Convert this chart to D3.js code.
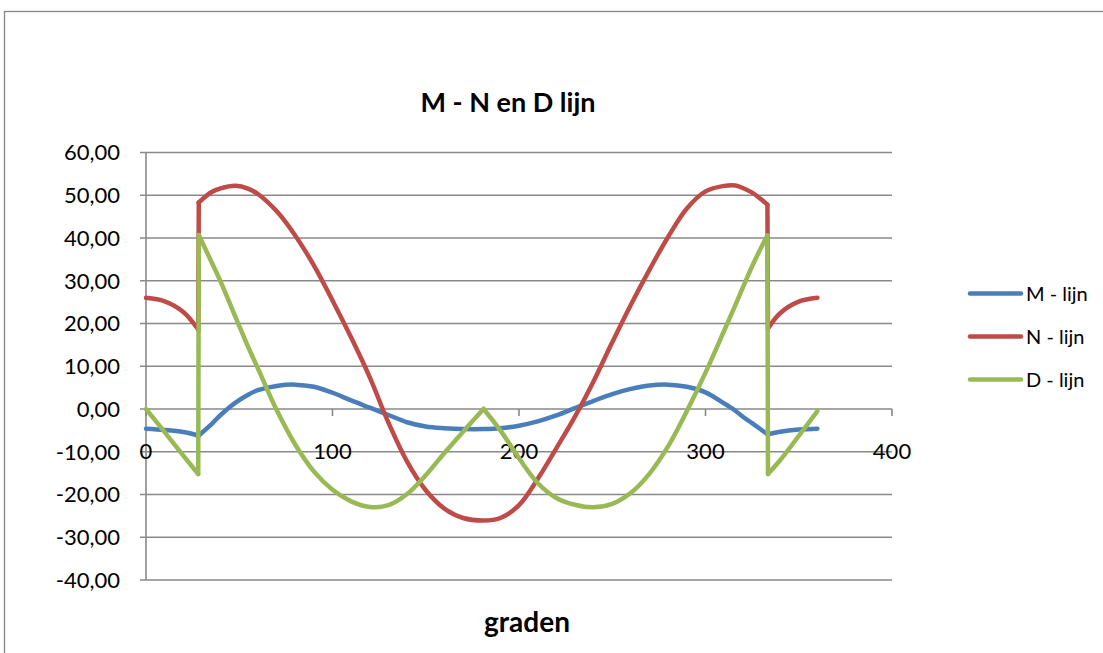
<!DOCTYPE html>
<html>
<head>
<meta charset="utf-8">
<script src="https://cdn.jsdelivr.net/npm/d3@7"></script>
<style>
  html, body { margin: 0; padding: 0; background: #ffffff; }
  svg { display: block; }
  text { font-family: Lato, "Open Sans", sans-serif; fill: #000; }
</style>
</head>
<body>
<svg id="chart" width="1103" height="653"></svg>
<script>
// ---------------- data ----------------
const degrees = [0,10,20,28,28.3,35,40,48,55,60,70,80,90,100,110,120,130,140,150,160,170,181,
  190,200,210,220,230,240,250,260,270,280,290,300,310,316,320,325,330,333.2,333.5,340,350,360];

const mValues = [-4.6,-4.9,-5.4,-6.2,-6.2,-3.6,-1.4,1.5,3.4,4.4,5.4,5.7,5.2,3.8,2.0,0.3,-1.4,-3.1,-4.1,-4.5,-4.7,-4.7,
  -4.5,-3.9,-2.9,-1.5,0.2,1.9,3.5,4.7,5.5,5.7,5.2,3.9,1.3,-0.4,-1.8,-3.3,-4.9,-5.9,-5.9,-5.3,-4.8,-4.6];

const nValues = [26.0,25.2,22.7,18.6,48.3,50.7,51.6,52.2,51.5,50.3,46.3,40.6,33.6,25.4,16.7,7.4,-3.2,-12.3,-19.0,-23.3,-25.5,-26.1,
  -25.5,-22.5,-16.4,-9.2,-1.8,6.5,15.6,24.4,32.6,40.3,46.9,50.9,52.2,52.3,51.7,50.6,49.0,47.8,18.8,22.4,25.1,26.0];

const dValues = [0,-5.4,-10.9,-15.2,40.7,34.5,29.8,21.5,14.3,9.5,-0.2,-8.3,-14.6,-18.9,-21.6,-22.9,-22.5,-19.9,-15.5,-10.3,-5.3,0,
  -5.0,-11.5,-17.3,-20.8,-22.4,-23.0,-22.2,-19.6,-15.1,-8.7,-0.5,8.5,18.3,24.3,28.4,33.4,37.9,40.6,-15.2,-12.0,-6.3,-0.5];

// degrees where a line has a corner or a jump (curve is split there)
const mBreaks = [28, 28.3, 333.2, 333.5];
const nBreaks = [28, 28.3, 333.2, 333.5];
const dBreaks = [28, 28.3, 181, 333.2, 333.5];

const seriesNames = ["M - lijn", "N - lijn", "D - lijn"];
const seriesColors = ["#4A7EBB", "#BE4B48", "#98B954"];
const yTicks = [60, 50, 40, 30, 20, 10, 0, -10, -20, -30, -40];
const xTicks = [0, 100, 200, 300, 400];
const titleText = "M - N en D lijn";
const xAxisTitle = "graden";

// ---------------- drawing ----------------
const svg = d3.select("#chart");

// outer chart frame
svg.append("rect")
  .attr("x", 4.5).attr("y", 11.5)
  .attr("width", 1120).attr("height", 680)
  .attr("fill", "#fff").attr("stroke", "#868686").attr("stroke-width", 1.3);

const x = d3.scaleLinear().domain([0, 400]).range([146, 892]);
const y = d3.scaleLinear().domain([-40, 60]).range([580, 152.5]);

// horizontal gridlines + y ticks
svg.append("g").selectAll("line").data(yTicks).join("line")
  .attr("x1", x(0) - 6).attr("x2", x(400))
  .attr("y1", d => y(d)).attr("y2", d => y(d))
  .attr("stroke", "#898989").attr("stroke-width", 1.6);

// y axis line
svg.append("line")
  .attr("x1", x(0)).attr("x2", x(0))
  .attr("y1", y(60)).attr("y2", y(-40))
  .attr("stroke", "#898989").attr("stroke-width", 1.6);

// x axis ticks (axis crosses at y = 0)
svg.append("g").selectAll("line").data(xTicks).join("line")
  .attr("x1", d => x(d)).attr("x2", d => x(d))
  .attr("y1", y(0)).attr("y2", y(0) + 7)
  .attr("stroke", "#898989").attr("stroke-width", 1.6);

const fmt = v => d3.format(".2f")(v).replace(".", ",").replace("−", "-");

svg.append("g").selectAll("text").data(yTicks).join("text")
  .attr("x", 120).attr("y", d => y(d))
  .attr("dy", "0.36em")
  .attr("text-anchor", "end")
  .style("font-size", "22px")
  .text(d => fmt(d));

svg.append("g").selectAll("text").data(xTicks).join("text")
  .attr("x", d => x(d)).attr("y", y(0) + 42)
  .attr("dy", "0.36em")
  .attr("text-anchor", "middle")
  .style("font-size", "22px")
  .text(d => d);

// series
function pieces(xs, ys, breaks) {
  const pts = xs.map((d, i) => [d, ys[i]]);
  const out = [];
  let cur = [];
  pts.forEach(p => {
    cur.push(p);
    if (breaks.includes(p[0]) && cur.length > 1) {
      out.push(cur);
      cur = [p];
    }
  });
  if (cur.length > 1) out.push(cur);
  return out;
}

const lineGen = d3.line()
  .x(d => x(d[0])).y(d => y(d[1]))
  .curve(d3.curveCatmullRom.alpha(0.5));

const allSeries = [
  { vals: mValues, breaks: mBreaks },
  { vals: nValues, breaks: nBreaks },
  { vals: dValues, breaks: dBreaks }
];

allSeries.forEach((s, i) => {
  const g = svg.append("g");
  pieces(degrees, s.vals, s.breaks).forEach(seg => {
    g.append("path")
      .attr("d", lineGen(seg))
      .attr("fill", "none")
      .attr("stroke", seriesColors[i])
      .attr("stroke-width", 4.5)
      .attr("stroke-linejoin", "round")
      .attr("stroke-linecap", "round");
  });
});

// titles
svg.append("text")
  .attr("x", 508).attr("y", 103).attr("dy", "0.35em")
  .attr("text-anchor", "middle")
  .style("font-size", "27px").style("font-weight", "bold")
  .text(titleText);

svg.append("text")
  .attr("x", 527).attr("y", 622).attr("dy", "0.35em")
  .attr("text-anchor", "middle")
  .style("font-size", "28px").style("font-weight", "bold")
  .text(xAxisTitle);

// legend
const legendY = [293.5, 336.5, 379.5];
const legend = svg.append("g");
seriesNames.forEach((name, i) => {
  legend.append("line")
    .attr("x1", 970).attr("x2", 1021)
    .attr("y1", legendY[i]).attr("y2", legendY[i])
    .attr("stroke", seriesColors[i]).attr("stroke-width", 4.5)
    .attr("stroke-linecap", "round");
  legend.append("text")
    .attr("x", 1026).attr("y", legendY[i]).attr("dy", "0.36em")
    .style("font-size", "20px")
    .text(name);
});
</script>
</body>
</html>
